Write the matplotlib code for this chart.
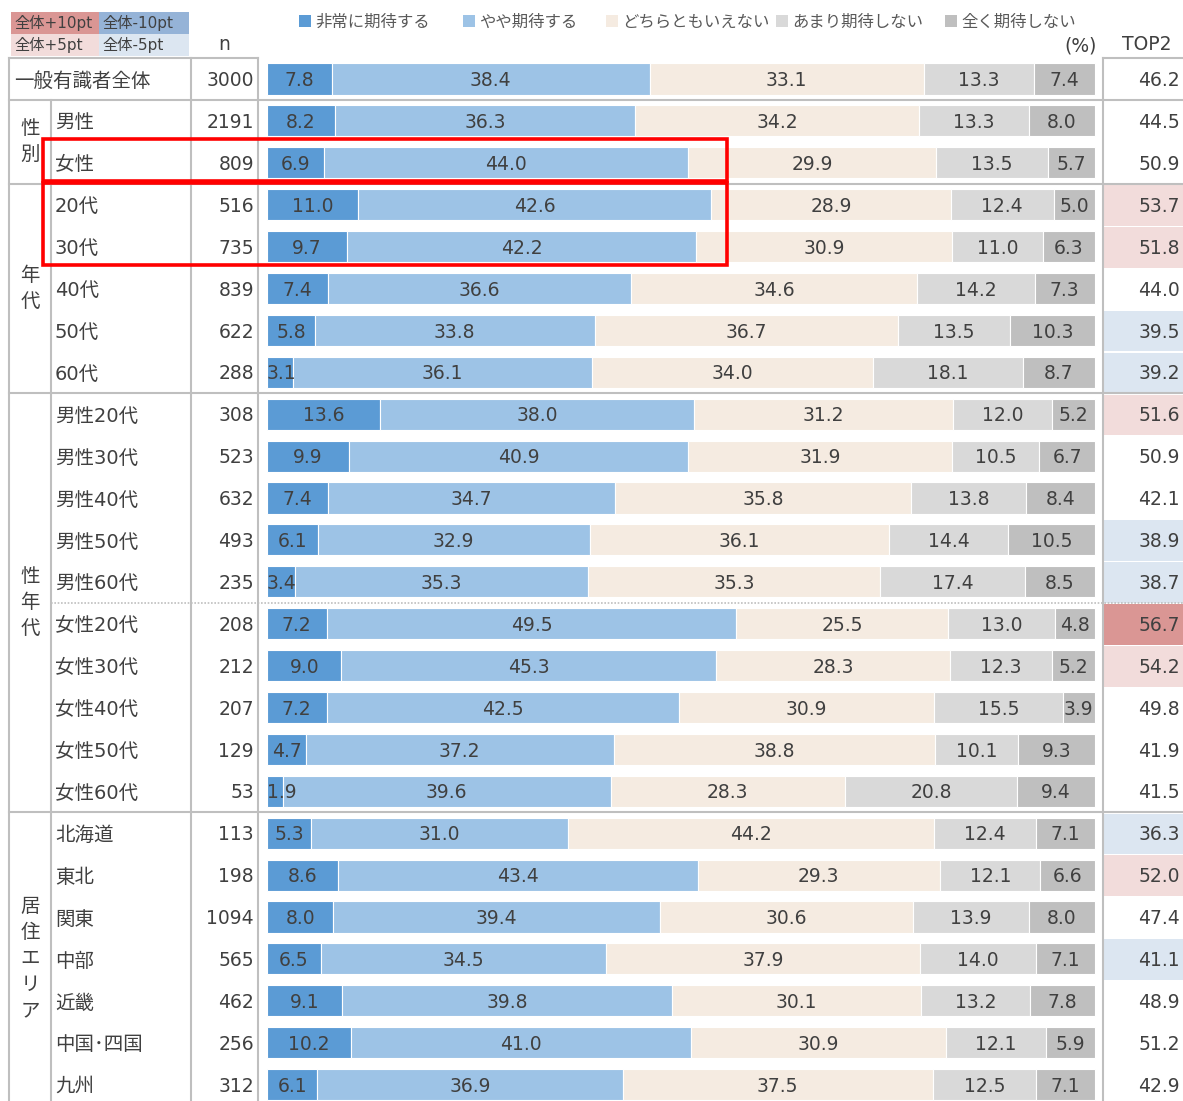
import numpy as np
import matplotlib
matplotlib.use("Agg")
import matplotlib.pyplot as plt
from matplotlib.patches import Rectangle

plt.rcParams['font.family'] = ['DejaVu Sans', 'Noto Sans CJK JP']

# Row labels and sample sizes
labels = ["一般有識者全体", "男性", "女性", "20代", "30代", "40代", "50代", "60代",
          "男性20代", "男性30代", "男性40代", "男性50代", "男性60代",
          "女性20代", "女性30代", "女性40代", "女性50代", "女性60代",
          "北海道", "東北", "関東", "中部", "近畿", "中国･四国", "九州"]
n_values = [3000, 2191, 809, 516, 735, 839, 622, 288,
            308, 523, 632, 493, 235,
            208, 212, 207, 129, 53,
            113, 198, 1094, 565, 462, 256, 312]

# Answer shares (%)
very = [7.8, 8.2, 6.9, 11.0, 9.7, 7.4, 5.8, 3.1,
        13.6, 9.9, 7.4, 6.1, 3.4,
        7.2, 9.0, 7.2, 4.7, 1.9,
        5.3, 8.6, 8.0, 6.5, 9.1, 10.2, 6.1]
somewhat = [38.4, 36.3, 44.0, 42.6, 42.2, 36.6, 33.8, 36.1,
            38.0, 40.9, 34.7, 32.9, 35.3,
            49.5, 45.3, 42.5, 37.2, 39.6,
            31.0, 43.4, 39.4, 34.5, 39.8, 41.0, 36.9]
neutral = [33.1, 34.2, 29.9, 28.9, 30.9, 34.6, 36.7, 34.0,
           31.2, 31.9, 35.8, 36.1, 35.3,
           25.5, 28.3, 30.9, 38.8, 28.3,
           44.2, 29.3, 30.6, 37.9, 30.1, 30.9, 37.5]
not_much = [13.3, 13.3, 13.5, 12.4, 11.0, 14.2, 13.5, 18.1,
            12.0, 10.5, 13.8, 14.4, 17.4,
            13.0, 12.3, 15.5, 10.1, 20.8,
            12.4, 12.1, 13.9, 14.0, 13.2, 12.1, 12.5]
not_at_all = [7.4, 8.0, 5.7, 5.0, 6.3, 7.3, 10.3, 8.7,
              5.2, 6.7, 8.4, 10.5, 8.5,
              4.8, 5.2, 3.9, 9.3, 9.4,
              7.1, 6.6, 8.0, 7.1, 7.8, 5.9, 7.1]
top2 = [46.2, 44.5, 50.9, 53.7, 51.8, 44.0, 39.5, 39.2,
        51.6, 50.9, 42.1, 38.9, 38.7,
        56.7, 54.2, 49.8, 41.9, 41.5,
        36.3, 52.0, 47.4, 41.1, 48.9, 51.2, 42.9]

legend_labels = ["非常に期待する", "やや期待する", "どちらともいえない", "あまり期待しない", "全く期待しない"]
colors = ["#5b9bd5", "#9dc3e6", "#f5ebe1", "#d9d9d9", "#bfbfbf"]

# group name, first row, last row
groups = [("性別", 1, 2), ("年代", 3, 7), ("性年代", 8, 17), ("居住エリア", 18, 24)]
group_breaks = [0.5, 2.5, 7.5, 17.5]
dotted_break = 12.5
highlights = [(2, 2), (3, 4)]
highlight_pct = 55.6

# significance colours for TOP2
hi2, hi1, lo1, lo2 = "#da9694", "#f2dcdb", "#dce6f1", "#95b3d7"

# layout (pixels)
W, H = 1183, 1101
bar_x0, pct_px = 267, 8.28
row0, row_h = 79, 41.9
grid_c = "#bfbfbf"
txt_c = "#404040"


def xp(p):
    return (p - bar_x0) / pct_px


def yp(p):
    return (p - row0) / row_h


fig = plt.figure(figsize=(W / 100, H / 100), dpi=100)
ax = fig.add_axes([0, 0, 1, 1])
ax.set_xlim(xp(0), xp(W))
ax.set_ylim(yp(H), yp(0))
ax.axis("off")

rows = np.arange(len(labels))
data = np.array([very, somewhat, neutral, not_much, not_at_all])
shares = data / data.sum(axis=0) * 100

# stacked bars
left = np.zeros(len(labels))
for k in range(len(colors)):
    ax.barh(rows, shares[k], left=left, height=0.74, color=colors[k],
            edgecolor="white", linewidth=0.8, zorder=2)
    for r in rows:
        cx = left[r] + shares[k][r] / 2
        ha = "center"
        if cx < 1.9:
            # keep label inside the plot area like Excel does
            cx, ha = 0.0, "left"
        ax.text(cx, r + 0.04, f"{data[k][r]:.1f}",
                ha=ha, va="center", fontsize=13.5, color=txt_c, zorder=3)
    left += shares[k]

# TOP2 column
total = top2[0]
for r in rows:
    diff = round(top2[r] - total, 1)
    fill = None
    if diff >= 10:
        fill = hi2
    elif diff > 5:
        fill = hi1
    elif diff <= -10:
        fill = lo2
    elif diff < -5:
        fill = lo1
    if fill:
        ax.add_patch(Rectangle((xp(1104), r - 0.47), xp(W) - xp(1104), 0.97,
                               color=fill, lw=0, zorder=1))
    ax.text(xp(1180), r + 0.04, f"{top2[r]:.1f}", ha="right", va="center",
            fontsize=13.5, color=txt_c, zorder=3)

# row labels and n
for r in rows:
    x = xp(14) if r == 0 else xp(55)
    ax.text(x, r + 0.05, labels[r], ha="left", va="center", fontsize=14, color=txt_c)
    ax.text(xp(254), r + 0.04, str(n_values[r]), ha="right", va="center",
            fontsize=13.5, color=txt_c)

# group labels written vertically
for name, a, b in groups:
    mid = (a + b) / 2
    step = 0.62
    for i, ch in enumerate(name):
        ax.text(xp(30), mid + (i - (len(name) - 1) / 2) * step, ch,
                ha="center", va="center", fontsize=14, color=txt_c)

# table grid
lw = 1.5
top = -0.5
bottom = yp(H)
ax.plot([xp(9), xp(258)], [top, top], color=grid_c, lw=lw, zorder=4)
ax.plot([xp(1103), xp(W)], [top, top], color=grid_c, lw=lw, zorder=4)
for yb in group_breaks:
    ax.plot([xp(9), xp(W)], [yb, yb], color=grid_c, lw=lw, zorder=4)
ax.plot([xp(51), xp(W)], [dotted_break, dotted_break], color=grid_c, lw=1.2,
        ls=(0, (1, 1)), zorder=4)
for xv in [9, 191, 258, 1103]:
    ax.plot([xp(xv), xp(xv)], [top, bottom], color=grid_c, lw=lw, zorder=4)
ax.plot([xp(51), xp(51)], [0.5, bottom], color=grid_c, lw=lw, zorder=4)

# red highlight boxes
for a, b in highlights:
    y0 = a - 0.57 + (0.05 if a > 2 else 0)
    y1 = b + 0.43
    ax.add_patch(Rectangle((xp(43), y0), highlight_pct - xp(43), y1 - y0,
                           fill=False, edgecolor="#ff0000", lw=2.6, zorder=5))

# headers
ax.text(xp(224), yp(45), "n", ha="center", va="center", fontsize=13.5, color=txt_c)
ax.text(xp(1097), yp(46), "(%)", ha="right", va="center", fontsize=13.5, color=txt_c)
ax.text(xp(1147), yp(45), "TOP2", ha="center", va="center", fontsize=13.5, color=txt_c)

# legend
leg_x = [299, 463, 606, 776, 945]
for lx, lab, c in zip(leg_x, legend_labels, colors):
    ax.add_patch(Rectangle((xp(lx), yp(27)), xp(lx + 12) - xp(lx), yp(15) - yp(27),
                           color=c, lw=0))
    ax.text(xp(lx + 16), yp(22), lab, ha="left", va="center", fontsize=11.8,
            color="#595959")

# significance key
key = [("全体+10pt", hi2, 11, 12), ("全体-10pt", lo2, 99, 12),
       ("全体+5pt", hi1, 11, 34), ("全体-5pt", lo1, 99, 34)]
for lab, c, kx, ky in key:
    ax.add_patch(Rectangle((xp(kx), yp(ky + 22)), xp(kx + 90) - xp(kx),
                           yp(ky) - yp(ky + 22), color=c, lw=0))
    ax.text(xp(kx + 3), yp(ky + 11), lab, ha="left", va="center", fontsize=11,
            color=txt_c)

fig.savefig("out.png", dpi=100)
